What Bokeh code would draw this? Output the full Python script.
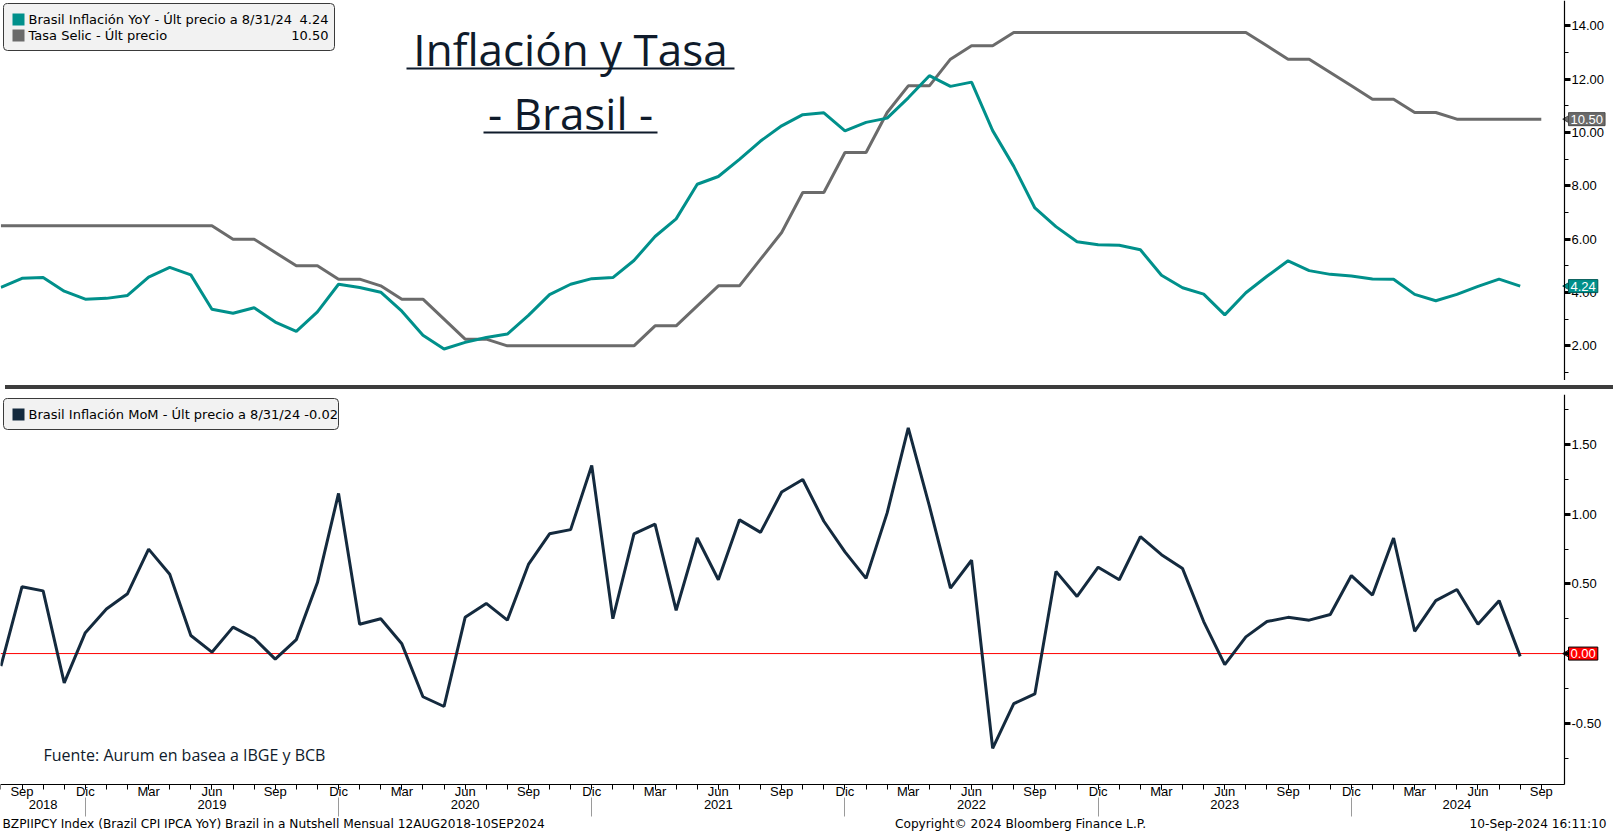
import math
import pandas as pd
from bokeh.plotting import figure
from bokeh.models import (Range1d, FixedTicker, LinearAxis, Label, BoxAnnotation,
                          NumeralTickFormatter, Div)
from bokeh.layouts import column
from bokeh.embed import file_html
from bokeh.resources import INLINE

# ---------------- data (monthly, Aug 2018 .. Sep 2024) ----------------
dates = list(pd.date_range("2018-08-01", "2024-09-01", freq="MS"))
month_names = {3: "Mar", 6: "Jun", 9: "Sep", 12: "Dic"}

# Brasil Inflación YoY (Aug 2018 .. Aug 2024)
yoy = [4.19, 4.53, 4.56, 4.05, 3.75,
       3.78, 3.89, 4.58, 4.94, 4.66, 3.37, 3.22, 3.43, 2.89, 2.54, 3.27, 4.31,
       4.19, 4.01, 3.30, 2.40, 1.88, 2.13, 2.31, 2.44, 3.14, 3.92, 4.31, 4.52,
       4.56, 5.20, 6.10, 6.76, 8.06, 8.35, 8.99, 9.68, 10.25, 10.67, 10.74, 10.06,
       10.38, 10.54, 11.30, 12.13, 11.73, 11.89, 10.07, 8.73, 7.17, 6.47, 5.90, 5.79,
       5.77, 5.60, 4.65, 4.18, 3.94, 3.16, 3.99, 4.61, 5.19, 4.82, 4.68, 4.62,
       4.51, 4.50, 3.93, 3.69, 3.93, 4.23, 4.50, 4.24]

# Brasil Inflación MoM (Aug 2018 .. Aug 2024)
mom = [-0.09, 0.48, 0.45, -0.21, 0.15,
       0.32, 0.43, 0.75, 0.57, 0.13, 0.01, 0.19, 0.11, -0.04, 0.10, 0.51, 1.15,
       0.21, 0.25, 0.07, -0.31, -0.38, 0.26, 0.36, 0.24, 0.64, 0.86, 0.89, 1.35,
       0.25, 0.86, 0.93, 0.31, 0.83, 0.53, 0.96, 0.87, 1.16, 1.25, 0.95, 0.73,
       0.54, 1.01, 1.62, 1.06, 0.47, 0.67, -0.68, -0.36, -0.29, 0.59, 0.41, 0.62,
       0.53, 0.84, 0.71, 0.61, 0.23, -0.08, 0.12, 0.23, 0.26, 0.24, 0.28, 0.56,
       0.42, 0.83, 0.16, 0.38, 0.46, 0.21, 0.38, -0.02]

# Tasa Selic (Aug 2018 .. Sep 2024)
selic = [6.50, 6.50, 6.50, 6.50, 6.50,
         6.50, 6.50, 6.50, 6.50, 6.50, 6.50, 6.00, 6.00, 5.50, 5.00, 5.00, 4.50,
         4.50, 4.25, 3.75, 3.75, 3.00, 2.25, 2.25, 2.00, 2.00, 2.00, 2.00, 2.00,
         2.00, 2.00, 2.75, 2.75, 3.50, 4.25, 4.25, 5.25, 6.25, 7.75, 7.75, 9.25,
         9.25, 10.75, 11.75, 11.75, 12.75, 13.25, 13.25, 13.75, 13.75, 13.75, 13.75, 13.75,
         13.75, 13.75, 13.75, 13.75, 13.75, 13.75, 13.75, 13.25, 12.75, 12.75, 12.25, 11.75,
         11.25, 11.25, 10.75, 10.75, 10.50, 10.50, 10.50, 10.50, 10.50]

top_ticks = [2, 4, 6, 8, 10, 12, 14]
top_minor = [1, 3, 5, 7, 9, 11, 13, 15]
bot_ticks = [-0.5, 0.0, 0.5, 1.0, 1.5]
bot_minor = [-0.75, -0.25, 0.25, 0.75, 1.25, 1.75]

# ---------------- style / geometry ----------------
TEAL = "#00908b"
GRAY = "#6b6b6b"
NAVY = "#142a3e"
INK = "#0f1b2b"
FONT = "Liberation Sans"
LFONT = "DejaVu Sans"
TFONT = "Open Sans"

W = 1608          # canvas width
AX_PX = 1564      # pixel position of the right axis line
HT = 380          # top panel height
HB = 390          # bottom plot-area height
BB = 50           # space under bottom plot area (axes + footer)

X0 = -0.02        # left edge (months since Aug 2018)
X_AX = 74.1       # position of the right axis line
ppu = AX_PX / (X_AX - X0)
X1 = X0 + W / ppu

YT0, YT1 = 0.7, 14.95
YB, YTOP = -0.94, 1.86
dpp = (YTOP - YB) / HB
YB_CANVAS = YB - BB * dpp

x_yoy = list(range(len(yoy)))
x_mom = list(range(len(mom)))
x_sel = list(range(len(selic)))
xr = Range1d(X0, X1)


def style_y(ax, ticks, minor, bounds):
    ax.fixed_location = X_AX
    ax.bounds = bounds
    ax.ticker = FixedTicker(ticks=ticks, minor_ticks=minor)
    ax.formatter = NumeralTickFormatter(format="0.00")
    ax.axis_line_color = "black"
    ax.axis_line_width = 1.2
    ax.major_tick_in = 0
    ax.major_tick_out = 6
    ax.major_tick_line_width = 3
    ax.major_tick_line_color = "black"
    ax.minor_tick_in = 0
    ax.minor_tick_out = 4
    ax.minor_tick_line_color = "black"
    ax.major_label_text_font = FONT
    ax.major_label_text_font_size = "13px"
    ax.major_label_text_color = "black"
    ax.major_label_standoff = 1


def sbox(p, left, right, top, bottom, fill, line=None, radius=0):
    p.add_layout(BoxAnnotation(left=left, right=right, top=top, bottom=bottom,
                               left_units="screen", right_units="screen",
                               top_units="screen", bottom_units="screen",
                               fill_color=fill, fill_alpha=1.0,
                               line_color=line, line_alpha=1.0, line_width=1,
                               border_radius=radius))


def slabel(p, x, y, text, size="13px", font=LFONT, color="black", align="left",
           baseline="middle"):
    p.add_layout(Label(x=x, y=y, x_units="screen", y_units="screen", text=text,
                       text_font=font, text_font_size=size, text_color=color,
                       text_align=align, text_baseline=baseline))


def tag(p, y, text, bg, border):
    p.scatter(x=[X_AX + 4 / ppu], y=[y], marker="triangle", size=10,
              angle=math.pi / 2, fill_color=bg, line_color=border, line_width=1)
    p.add_layout(Label(x=X_AX, y=y, x_offset=4, x_units="data", y_units="data",
                       text=text, text_font=FONT, text_font_size="13px",
                       text_color="white", text_align="left", text_baseline="middle",
                       background_fill_color=bg, background_fill_alpha=1.0,
                       border_line_color=border, padding=2))


# ---------------- top panel ----------------
top = figure(width=W, height=HT, x_range=xr, y_range=Range1d(YT0, YT1),
             y_axis_location="right", x_axis_location=None,
             toolbar_location=None, output_backend="svg",
             min_border_left=0, min_border_right=0, min_border_top=0,
             min_border_bottom=0, outline_line_color=None,
             background_fill_color="white", border_fill_color="white")
top.grid.visible = False
style_y(top.yaxis[0], top_ticks, top_minor, (YT0, YT1))

top.line(x_sel, selic, line_color=GRAY, line_width=3)
top.line(x_yoy, yoy, line_color=TEAL, line_width=3)

tag(top, selic[-1], "%.2f" % selic[-1], GRAY, "#4a4a4a")
tag(top, yoy[-1], "%.2f" % yoy[-1], TEAL, "#005a57")

# legend
sbox(top, 3, 334, HT - 3, HT - 50, "#f2f2f2", "#3a3a3a", 4)
sbox(top, 12, 24, HT - 13, HT - 25, TEAL)
sbox(top, 12, 24, HT - 29, HT - 41, GRAY)
slabel(top, 28, HT - 19, "Brasil Inflación YoY - Últ precio a 8/31/24")
slabel(top, 328, HT - 19, "%.2f" % yoy[-1], align="right")
slabel(top, 28, HT - 35, "Tasa Selic - Últ precio")
slabel(top, 328, HT - 35, "%.2f" % selic[-1], align="right")

# title
slabel(top, 570, HT - 48, "Inflación y Tasa", size="44px", font=TFONT, color=INK,
       align="center")
slabel(top, 570, HT - 112, "- Brasil -", size="44px", font=TFONT, color=INK,
       align="center")
sbox(top, 406, 734, HT - 67, HT - 69, INK)
sbox(top, 483, 657, HT - 131, HT - 133, INK)

# ---------------- separator ----------------
sep = Div(text="", width=W, height=4, styles={"background-color": "#3d3d3d"})

# ---------------- bottom panel ----------------
bot = figure(width=W, height=HB + BB, x_range=xr, y_range=Range1d(YB_CANVAS, YTOP),
             y_axis_location="right", toolbar_location=None, output_backend="svg",
             min_border_left=0, min_border_right=0, min_border_top=0,
             min_border_bottom=0, outline_line_color=None,
             background_fill_color="white", border_fill_color="white")
bot.grid.visible = False
style_y(bot.yaxis[0], bot_ticks, bot_minor, (YB, YTOP))

bot.segment(x0=[X0], y0=[0.0], x1=[X_AX], y1=[0.0], line_color="#ff0000", line_width=1)
bot.line(x_mom, mom, line_color=NAVY, line_width=3)
tag(bot, 0.0, "0.00", "#ff0000", "#000000")

# month axis
q_ticks = [i for i, d in enumerate(dates) if d.month in month_names]
xa = bot.xaxis[0]
xa.fixed_location = YB
xa.bounds = (X0, X_AX)
xa.ticker = FixedTicker(ticks=q_ticks, minor_ticks=list(range(len(dates))))
xa.major_label_overrides = {i: month_names[dates[i].month] for i in q_ticks}
xa.axis_line_color = "black"
xa.axis_line_width = 1.2
xa.major_tick_in = 0
xa.major_tick_out = 5
xa.minor_tick_in = 0
xa.minor_tick_out = 5
xa.major_tick_line_color = "black"
xa.minor_tick_line_color = "black"
xa.major_label_standoff = -6
xa.major_label_text_font = FONT
xa.major_label_text_font_size = "13px"
xa.major_label_text_color = "black"

# year axis
dec_idx = [i for i, d in enumerate(dates) if d.month == 12]
years = sorted(set(d.year for d in dates))
bounds = [0] + dec_idx + [int(round(X_AX))]
year_pos = {}
for k, yr in enumerate(years):
    year_pos[int(round((bounds[k] + bounds[k + 1]) / 2))] = str(yr)
ya = LinearAxis(ticker=FixedTicker(ticks=list(year_pos.keys()), minor_ticks=dec_idx),
                major_label_overrides=year_pos, fixed_location=YB - 13 * dpp,
                bounds=(X0, X_AX))
ya.axis_line_color = None
ya.major_tick_line_color = None
ya.major_tick_in = 0
ya.major_tick_out = 0
ya.minor_tick_in = 0
ya.minor_tick_out = 19
ya.minor_tick_line_color = "#9a9a9a"
ya.major_label_standoff = -17
ya.major_label_text_font = FONT
ya.major_label_text_font_size = "13px"
ya.major_label_text_color = "black"
bot.add_layout(ya, "below")

# legend
sbox(bot, 3, 338, HB + BB - 4, HB + BB - 35, "#f2f2f2", "#3a3a3a", 4)
sbox(bot, 12, 24, HB + BB - 14, HB + BB - 26, NAVY)
slabel(bot, 28, HB + BB - 20, "Brasil Inflación MoM - Últ precio a 8/31/24 %.2f" % mom[-1])

# source
slabel(bot, 43, BB + 30, "Fuente: Aurum en basea a IBGE y BCB", size="16px", font=TFONT,
       color=INK)

# footer
slabel(bot, 2, 11, "BZPIIPCY Index (Brazil CPI IPCA YoY) Brazil in a Nutshell  Mensual 12AUG2018-10SEP2024",
       size="12.2px")
slabel(bot, 1020, 11, "Copyright© 2024 Bloomberg Finance L.P.", size="12.2px",
       align="center")
slabel(bot, W - 2, 11, "10-Sep-2024 16:11:10", size="12.2px", align="right")

layout = column(top, sep, bot)
open("out.html", "w").write(file_html(layout, INLINE))
